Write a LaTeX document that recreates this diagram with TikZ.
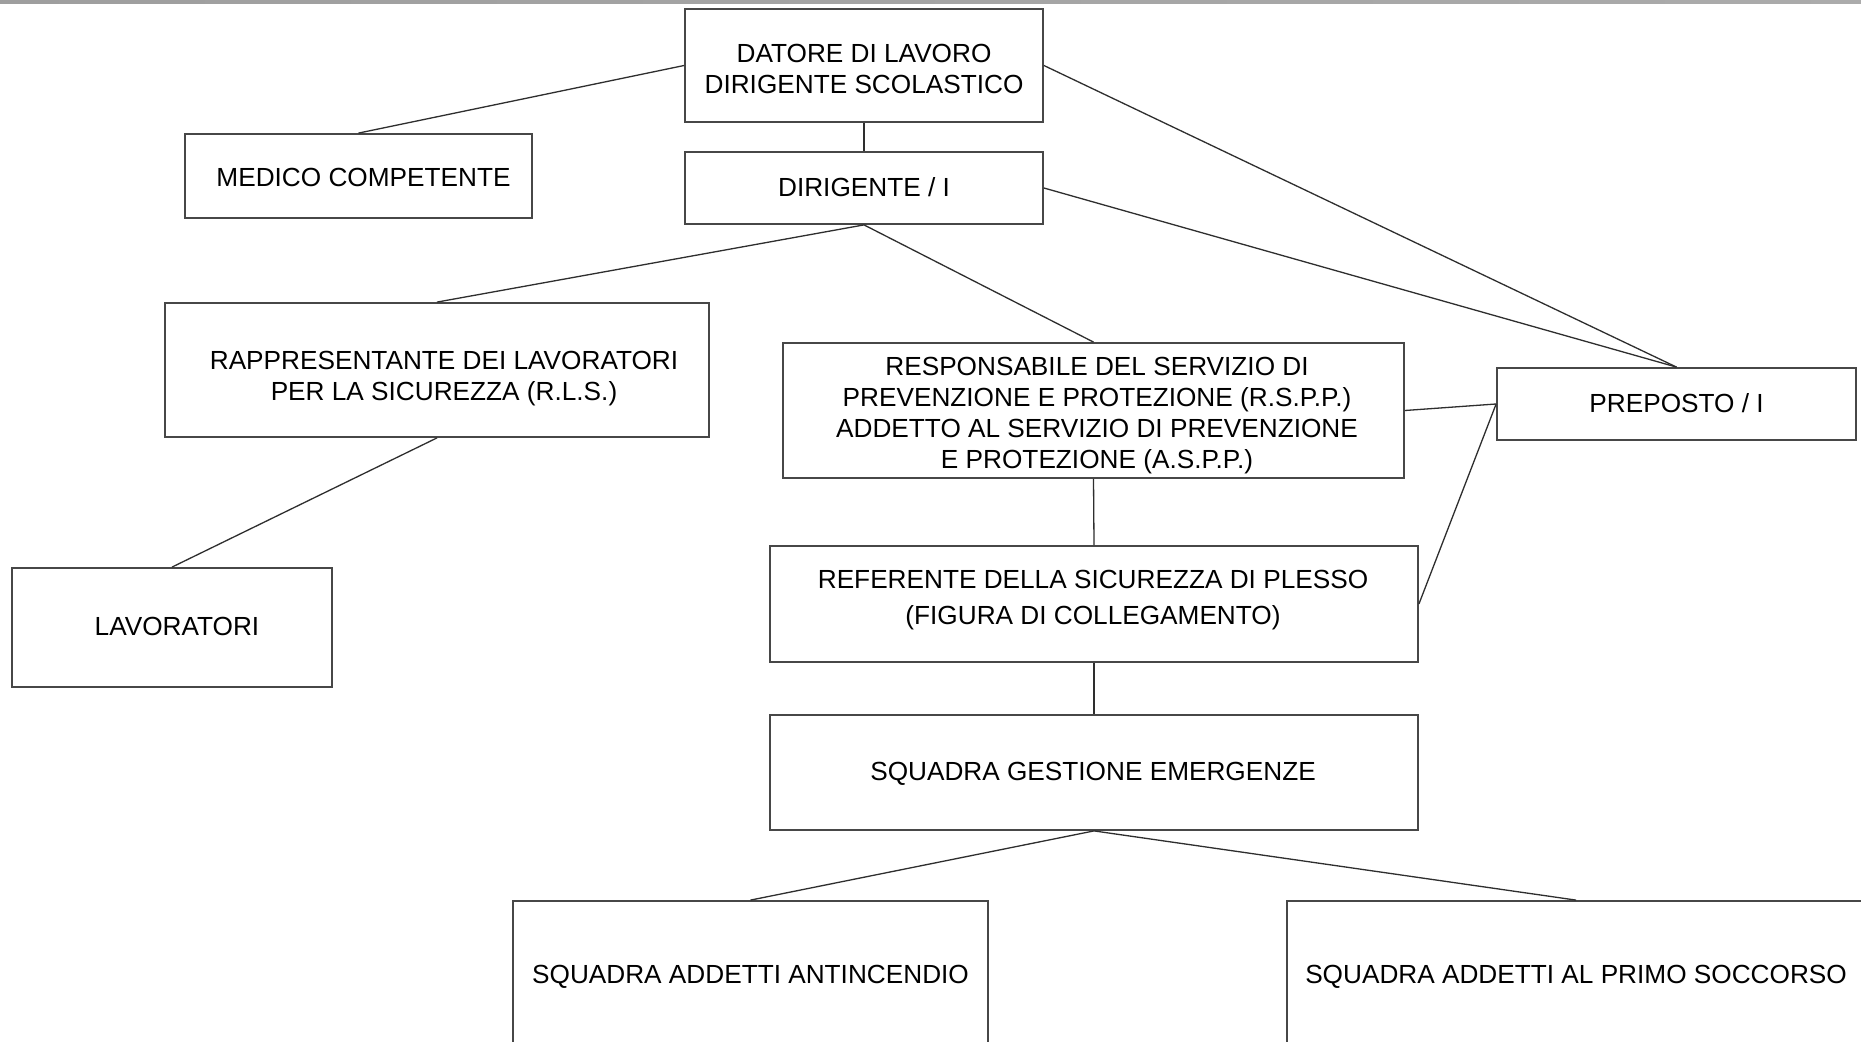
\documentclass[tikz,border=0pt]{standalone}
\usepackage{fontspec}
\setmainfont{Liberation Sans}
\begin{document}
\begin{tikzpicture}[x=0.5pt,y=-0.5pt,
  box/.style={draw=black!72, line width=0.9pt, fill=white, inner sep=0pt},
  txt/.style={inner sep=0pt, align=center, font=\fontsize{13.1pt}{15.5pt}\selectfont},
  conn/.style={draw=black!82, line width=0.65pt}]
\useasboundingbox (0,0) rectangle (1861,1042);
\clip (0,0) rectangle (1861,1042);
\fill[white] (0,0) rectangle (1861,1042);
\shade[left color=black!38, middle color=black!25, right color=black!33] (0,0) rectangle (1861,4);
\newcommand{\orgbox}[7]{%
  \node[box, minimum width=#4*0.5pt, minimum height=#5*0.5pt] (#1) at (#2,#3) {};
  \node[txt, #6] (#1-t) at (#2,#3) {#7};}
\orgbox{datore}{864}{65.5}{358}{113}{yshift=-1.5pt}{DATORE DI LAVORO\\DIRIGENTE SCOLASTICO}
\orgbox{medico}{358.5}{176}{347}{84}{xshift=2.5pt,yshift=-0.5pt}{MEDICO COMPETENTE}
\orgbox{dirig}{864}{188}{358}{72}{yshift=0.5pt}{DIRIGENTE / I}
\orgbox{rls}{437}{370}{544}{134}{xshift=3.5pt,yshift=-4.5pt}{RAPPRESENTANTE DEI LAVORATORI\\PER LA SICUREZZA (R.L.S.)}
\orgbox{rspp}{1093.5}{410.5}{621}{135}{xshift=1.75pt,yshift=-2.5pt}{RESPONSABILE DEL SERVIZIO DI\\PREVENZIONE E PROTEZIONE (R.S.P.P.)\\ADDETTO AL SERVIZIO DI PREVENZIONE\\E PROTEZIONE (A.S.P.P.)}
\orgbox{prep}{1676.5}{404}{359}{72}{yshift=0.5pt}{PREPOSTO / I}
\orgbox{lav}{172}{627.5}{320}{119}{xshift=2.5pt,yshift=0.5pt}{LAVORATORI}
\orgbox{ref}{1094}{604}{648}{116}{xshift=-0.5pt,yshift=2pt}{REFERENTE DELLA SICUREZZA DI PLESSO\\[2.4pt](FIGURA DI COLLEGAMENTO)}
\orgbox{sge}{1094}{772.5}{648}{115}{xshift=-0.5pt,yshift=-0.5pt}{SQUADRA GESTIONE EMERGENZE}
\orgbox{anti}{750.5}{977}{475}{152}{}{SQUADRA ADDETTI ANTINCENDIO}
\orgbox{primo}{1576}{977}{578}{152}{}{SQUADRA ADDETTI AL PRIMO SOCCORSO}
\draw[conn] (datore.west) -- (medico.north);
\draw[conn] (datore.south) -- (dirig.north);
\draw[conn] (datore.east) -- (prep.north);
\draw[conn] (dirig.east) -- (prep.north);
\draw[conn] (dirig.south) -- (rls.north);
\draw[conn] (dirig.south) -- (rspp.north);
\draw[conn] (rls.south) -- (lav.north);
\draw[conn] (rspp.east) -- (prep.west);
\draw[conn] (ref.east) -- (prep.west);
\draw[conn] (rspp.south) -- (ref.north);
\draw[conn] (ref.south) -- (sge.north);
\draw[conn] (sge.south) -- (anti.north);
\draw[conn] (sge.south) -- (primo.north);
\end{tikzpicture}
\end{document}
